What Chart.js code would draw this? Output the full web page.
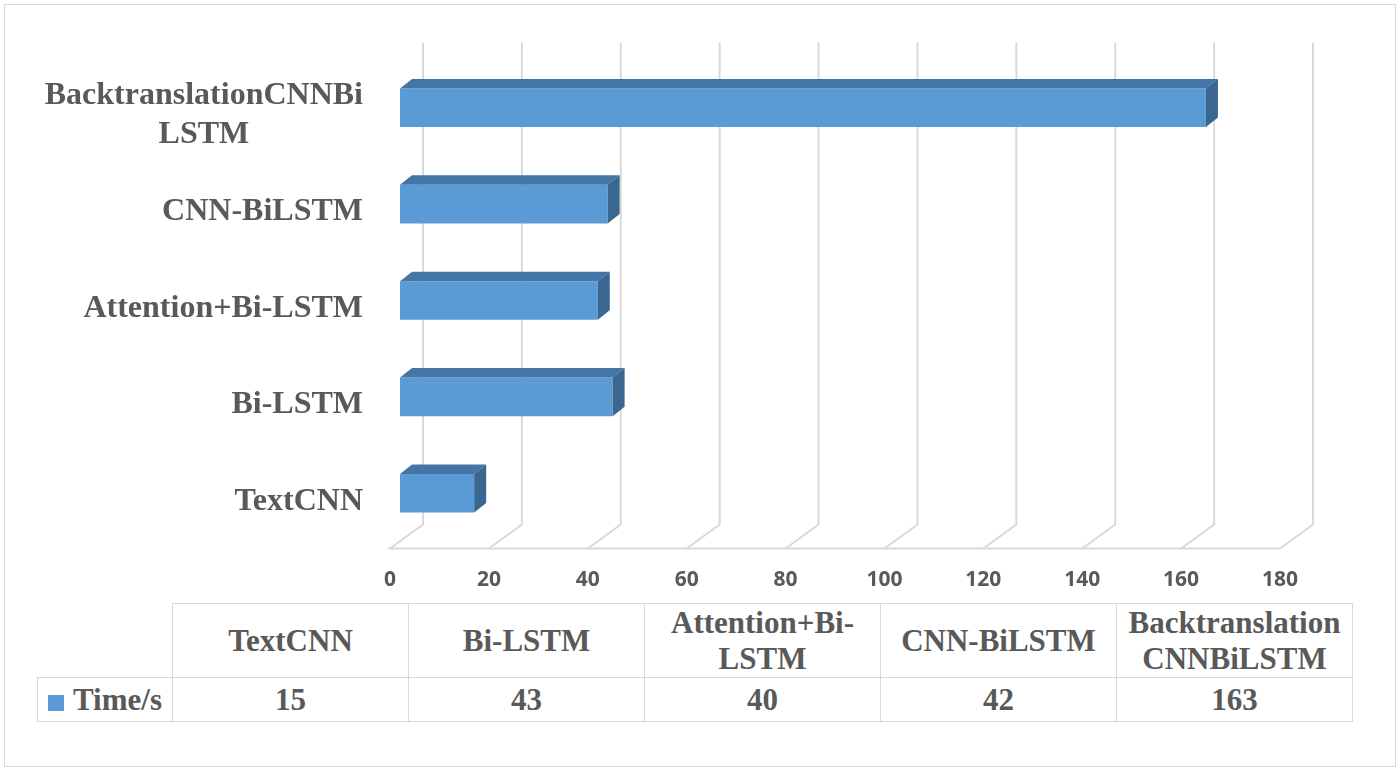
<!DOCTYPE html>
<html>
<head>
<meta charset="utf-8">
<script src="https://cdn.jsdelivr.net/npm/chart.js@4.4.1/dist/chart.umd.min.js"></script>
<style>
  html, body { margin: 0; padding: 0; background: #fff; }
  #frame {
    position: absolute; left: 4px; top: 4px; width: 1390px; height: 761px;
    border: 1.5px solid #d9d9d9; box-sizing: content-box;
  }
  #wrap { position: absolute; left: 0; top: 0; width: 1400px; height: 600px; }
  #dataTable {
    position: absolute; left: 37px; top: 603px;
    border-collapse: collapse; table-layout: fixed;
    font-family: "Liberation Serif", "Times New Roman", serif;
    font-weight: bold; font-size: 31px; color: #595959;
  }
  #dataTable td {
    border: 1.5px solid #d9d9d9; text-align: center; padding: 0;
    line-height: 36px;
  }
  #dataTable tr.head td { height: 73px; }
  #dataTable tr.vals td { height: 43px; }
  #dataTable td.blank { border: none; }
  #dataTable td.series { text-align: left; padding-left: 10px; white-space: nowrap; }
  .swatch {
    display: inline-block; width: 16px; height: 16px; background: #5b9bd5;
    margin-right: 9px; vertical-align: -1px;
  }
</style>
</head>
<body>
<div id="frame"></div>
<div id="wrap"><canvas id="timeChart"></canvas></div>
<table id="dataTable"></table>

<script>
const categories = ["TextCNN", "Bi-LSTM", "Attention+Bi-LSTM", "CNN-BiLSTM", "BacktranslationCNNBiLSTM"];
const axisLabels = [["TextCNN"], ["Bi-LSTM"], ["Attention+Bi-LSTM"], ["CNN-BiLSTM"], ["BacktranslationCNNBi", "LSTM"]];
const tableLabels = [["TextCNN"], ["Bi-LSTM"], ["Attention+Bi-", "LSTM"], ["CNN-BiLSTM"], ["Backtranslation", "CNNBiLSTM"]];
const seriesName = "Time/s";
const timeValues = [15, 43, 40, 42, 163];
const xMin = 0;
const xMax = 180;
const xStep = 20;

// 3d look: the wall sits behind the front plane, bars sit in between
const wall = { dx: 33, dy: -24 };
const barFront = { dx: 10, dy: -7 };
const barDepth = { dx: 12, dy: -9.5 };

const labelFont = 'bold 32px "Liberation Serif", "Times New Roman", serif';
const textColor = '#595959';

const fake3d = {
    id: 'fake3d',
    beforeDatasetsDraw(chart) {
        const ctx = chart.ctx;
        const xs = chart.scales.x;
        const area = chart.chartArea;
        ctx.save();
        ctx.strokeStyle = '#d9d9d9';
        ctx.lineWidth = 2;
        xs.ticks.forEach(t => {
            const px = xs.getPixelForValue(t.value);
            ctx.beginPath();
            ctx.moveTo(px + wall.dx, area.top + wall.dy);
            ctx.lineTo(px + wall.dx, area.bottom + wall.dy);
            ctx.lineTo(px, area.bottom);
            ctx.stroke();
        });
        ctx.beginPath();
        ctx.moveTo(area.left - 2, area.bottom);
        ctx.lineTo(area.right, area.bottom);
        ctx.stroke();
        ctx.restore();

        // move the front faces to the middle of the depth
        ctx.save();
        ctx.translate(barFront.dx, barFront.dy);
    },
    afterDatasetsDraw(chart) {
        const ctx = chart.ctx;
        ctx.restore();
        const meta = chart.getDatasetMeta(0);
        ctx.save();
        meta.data.forEach(bar => {
            const p = bar.getProps(['x', 'y', 'base', 'height'], true);
            const left = p.base + barFront.dx;
            const right = p.x + barFront.dx;
            const top = p.y - p.height / 2 + barFront.dy;
            const bottom = p.y + p.height / 2 + barFront.dy;

            ctx.fillStyle = '#4475a6';
            ctx.beginPath();
            ctx.moveTo(left, top);
            ctx.lineTo(left + barDepth.dx, top + barDepth.dy);
            ctx.lineTo(right + barDepth.dx, top + barDepth.dy);
            ctx.lineTo(right, top);
            ctx.closePath();
            ctx.fill();

            ctx.fillStyle = '#3a6790';
            ctx.beginPath();
            ctx.moveTo(right, top);
            ctx.lineTo(right + barDepth.dx, top + barDepth.dy);
            ctx.lineTo(right + barDepth.dx, bottom + barDepth.dy);
            ctx.lineTo(right, bottom);
            ctx.closePath();
            ctx.fill();
        });
        ctx.restore();
    },
    afterDraw(chart) {
        const ctx = chart.ctx;
        const ys = chart.scales.y;
        const lineH = 39;
        ctx.save();
        ctx.font = labelFont;
        ctx.fillStyle = textColor;
        ctx.textBaseline = 'middle';
        ctx.textAlign = 'center';
        const rightEdge = 363;
        axisLabels.forEach((lines, i) => {
            const cy = ys.getPixelForValue(i) + 1;
            const w = Math.max(...lines.map(l => ctx.measureText(l).width));
            const cx = rightEdge - w / 2;
            lines.forEach((l, k) => {
                ctx.fillText(l, cx, cy + (k - (lines.length - 1) / 2) * lineH);
            });
        });
        ctx.restore();
    }
};

const ctx = document.getElementById('timeChart');
new Chart(ctx, {
    type: 'bar',
    data: {
        labels: categories,
        datasets: [{
            label: seriesName,
            data: timeValues,
            backgroundColor: '#5b9bd5',
            borderWidth: 0,
            categoryPercentage: 1,
            barPercentage: 0.4
        }]
    },
    options: {
        indexAxis: 'y',
        responsive: true,
        maintainAspectRatio: false,
        animation: false,
        layout: {
            padding: { left: 390, right: 120, top: 66.5, bottom: 6.5 }
        },
        plugins: {
            legend: { display: false },
            tooltip: { enabled: false }
        },
        scales: {
            x: {
                min: xMin,
                max: xMax,
                grid: { display: false, drawTicks: false },
                border: { display: false },
                ticks: {
                    stepSize: xStep,
                    padding: 19,
                    color: textColor,
                    font: { family: '"Open Sans", sans-serif', weight: 'bold', size: 21 }
                },
                afterFit(scale) { scale.height = 45; }
            },
            y: {
                reverse: true,
                display: false
            }
        }
    },
    plugins: [fake3d]
});

// data table under the chart
const table = document.getElementById('dataTable');
let html = '<colgroup><col style="width:135px">';
tableLabels.forEach(() => { html += '<col style="width:236px">'; });
html += '</colgroup><tr class="head"><td class="blank"></td>';
tableLabels.forEach(lines => { html += '<td>' + lines.join('<br>') + '</td>'; });
html += '</tr><tr class="vals"><td class="series"><span class="swatch"></span>' + seriesName + '</td>';
timeValues.forEach(v => { html += '<td>' + v + '</td>'; });
html += '</tr>';
table.innerHTML = html;
</script>
</body>
</html>
